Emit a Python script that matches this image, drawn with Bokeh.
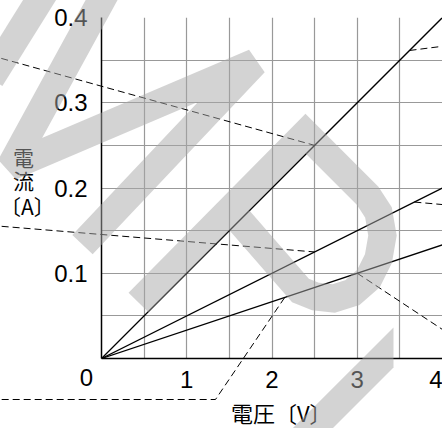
from bokeh.plotting import figure
from bokeh.models import Range1d, FixedTicker
from bokeh.embed import file_html
from bokeh.resources import INLINE
from bokeh.core.properties import value

# ---- data -------------------------------------------------------------
voltage = [0, 4]
current_a = [0, 0.4]
current_b = [0, 0.2]
current_c = [0, 0.1333]

x_ticks = [1, 2, 3, 4]
y_ticks = [0.1, 0.2, 0.3, 0.4]
x_grid = [0, 0.5, 1, 1.5, 2, 2.5, 3, 3.5, 4]
y_grid = [0, 0.05, 0.1, 0.15, 0.2, 0.25, 0.3, 0.35, 0.4]

origin_label = "0"
y_title = ["電", "流", "〔A〕"]
x_title = "電圧〔V〕"

# leader (dashed) lines, in (V, A)
lead_xs = [
    [-1.3, 2.5],
    [3.613, 4.1],
    [3.67, 4.1],
    [-1.3, 2.5],
    [3.0, 4.1],
    [-1.3, 1.337, 2.15],
]
lead_ys = [
    [0.3555, 0.25],
    [0.3613, 0.3675],
    [0.1835, 0.1797],
    [0.1561, 0.125],
    [0.1, 0.0274],
    [-0.0481, -0.0481, 0.0717],
]

# watermark strokes, in (V, A)
wm_m_xs = [[-0.657, -1.302], [0.094, -1.067, 1.795, -0.223]]
wm_m_ys = [[0.4317, 0.3284], [0.4375, 0.2252, 0.3472, 0.1337]]
wm_d_x = [0.434, 2.393, 3.120, 3.249, 3.296, 3.249, 3.132, 2.944, 2.721, 2.510, 2.334, 1.537]
wm_d_y = [0.0657, 0.2639, 0.1912, 0.1713, 0.1443, 0.1173, 0.0938, 0.0774, 0.0704, 0.0727, 0.0798, 0.1713]
wm_b_x = [3.425, 3.425, 2.581, 2.111]
wm_b_y = [0.0364, -0.0106, -0.0950, -0.0950]

# ---- figure -----------------------------------------------------------
p = figure(width=442, height=428, output_backend="svg", toolbar_location=None,
           x_range=Range1d(0, 4), y_range=Range1d(0, 0.4),
           min_border_left=101, min_border_right=0, min_border_top=17, min_border_bottom=70)
p.outline_line_color = None
p.background_fill_color = "white"
p.border_fill_color = "white"

for g, t in ((p.xgrid, x_grid), (p.ygrid, y_grid)):
    g.ticker = FixedTicker(ticks=t)
    g.grid_line_color = "#999999"
    g.grid_line_width = 1.2

for ax in (p.xaxis, p.yaxis):
    ax.major_tick_line_color = None
    ax.minor_tick_line_color = None
    ax.axis_line_color = "black"
    ax.axis_line_width = 1.5
    ax.major_label_text_font = "Liberation Sans"
    ax.major_label_text_font_size = "24px"
    ax.major_label_text_color = "black"

p.xaxis.ticker = FixedTicker(ticks=x_ticks)
p.yaxis.ticker = FixedTicker(ticks=y_ticks)
p.xaxis.major_label_standoff = 6
p.yaxis.major_label_standoff = 8

# data lines
for cur in (current_a, current_b, current_c):
    p.line(voltage, cur, line_color="black", line_width=1.3)

# texts outside the frame (overlay level so they are not clipped)
p.text(x=[0], y=[0], text=[origin_label], x_offset=-15, y_offset=19,
       text_align="center", text_baseline="middle",
       text_font=value("Liberation Sans"), text_font_size="24px", text_color="black", level="overlay")

cjk = value("Noto Sans CJK JP")
p.text(x=[-0.915, -0.915, -0.869], y=[0.2358, 0.2088, 0.1794], text=y_title,
       text_align="center", text_baseline="middle",
       text_font=cjk, text_font_size="21px", text_color="black", level="overlay")
p.text(x=[2.109], y=[-0.0633], text=[x_title], text_align="center", text_baseline="middle",
       text_font=cjk, text_font_size="22px", text_color="black", level="overlay")

# leader lines
p.multi_line(lead_xs, lead_ys, line_color="black", line_width=1, line_dash="7 4", level="overlay")

# watermark
wm = "#a8a8a8"
p.multi_line(wm_m_xs, wm_m_ys, line_color=wm, line_alpha=0.5, line_width=28,
             line_join="bevel", line_cap="butt", level="overlay")
p.line(wm_d_x, wm_d_y, line_color=wm, line_alpha=0.5, line_width=28,
       line_join="miter", line_cap="butt", level="overlay")
p.patch(wm_b_x, wm_b_y, fill_color=wm, fill_alpha=0.5, line_color=None, level="overlay")

open("out.html", "w").write(file_html(p, INLINE))
